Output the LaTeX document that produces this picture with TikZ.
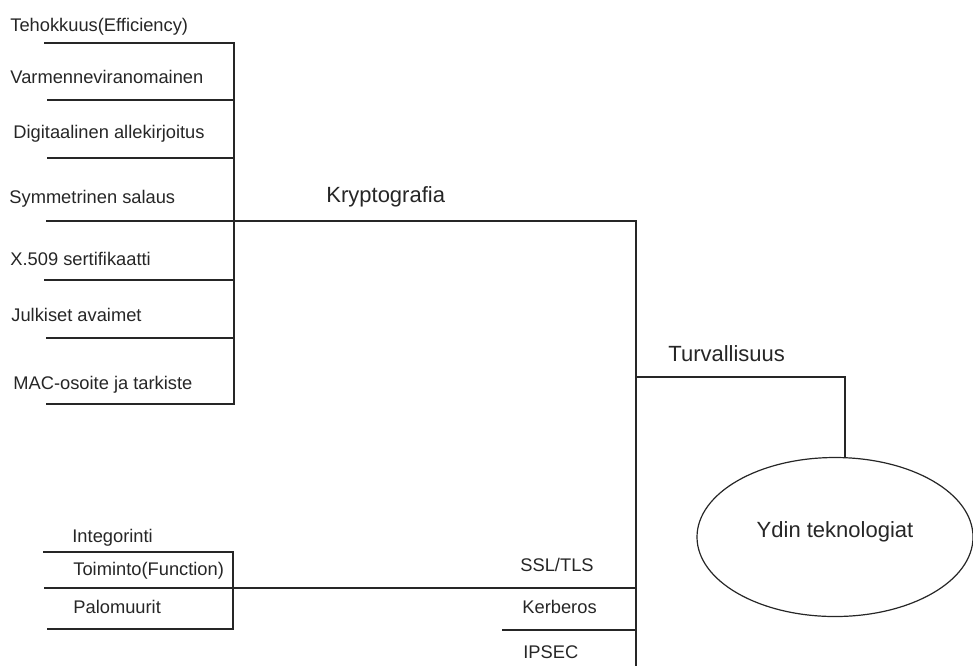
\documentclass[tikz,border=0pt]{standalone}
\usepackage{fontspec}
\setmainfont{Liberation Sans}
\usetikzlibrary{shapes.geometric}

\begin{document}
\begin{tikzpicture}[
    x=0.5pt, y=-0.5pt,
    item/.style={anchor=base west, inner sep=0pt, text=black!85, font=\fontsize{9.15}{11}\selectfont},
    head/.style={anchor=base west, inner sep=0pt, text=black!85, font=\fontsize{11}{13}\selectfont},
    core/.style={ellipse, draw=black!85, line width=0.6pt, inner sep=0pt, minimum width=138pt, minimum height=79.5pt, text height=1ex, text depth=1ex, text=black!85, font=\fontsize{11}{13}\selectfont},
    link/.style={draw=black!85, line width=0.75pt}
]
\useasboundingbox (0,0) rectangle (973,666);

% Kryptografia branch
\node[item] (teho) at (10,31) {Tehokkuus(Efficiency)};
\node[item] (varm) at (10,83) {Varmenneviranomainen};
\node[item] (digi) at (13,138) {Digitaalinen allekirjoitus};
\node[item] (symm) at (9,203) {Symmetrinen salaus};
\node[item] (x509) at (10,265) {X.509 sertifikaatti};
\node[item] (julk) at (11,321) {Julkiset avaimet};
\node[item] (mac) at (13,389) {MAC-osoite ja tarkiste};
\node[head] (krypto) at (326,202) {Kryptografia};

\coordinate (k1) at (44,43);
\coordinate (k2) at (47,100);
\coordinate (k3) at (47,158);
\coordinate (k4) at (46,221);
\coordinate (k5) at (44,280);
\coordinate (k6) at (46,338);
\coordinate (k7) at (46,404);
\coordinate (kspine) at (234,0);
\coordinate (main) at (636,666);

\draw[link] (k1) -- (k1 -| kspine) -- (k7 -| kspine) -- (k7);
\draw[link] (k2) -- (k2 -| kspine);
\draw[link] (k3) -- (k3 -| kspine);
\draw[link] (k5) -- (k5 -| kspine);
\draw[link] (k6) -- (k6 -| kspine);
\draw[link] (k4) -- (k4 -| main) -- (main);

% Turvallisuus and core
\node[head] (turva) at (668,361) {Turvallisuus};
\node[core] (ydin) at (835,537) {Ydin teknologiat};
\coordinate (t1) at (636,377);
\coordinate (t2) at (845,377);
\draw[link] (t1) -- (t2) -- (t2 |- ydin.north);

% Function branch
\node[item] (integ) at (72,542) {Integorinti};
\node[item] (toim) at (73,575) {Toiminto(Function)};
\node[item] (palo) at (73,613) {Palomuurit};
\coordinate (f1) at (43,552);
\coordinate (f2) at (44,588);
\coordinate (f3) at (47,629);
\coordinate (fspine) at (233,0);
\draw[link] (f1) -- (f1 -| fspine) -- (f3 -| fspine) -- (f3);
\draw[link] (f2) -- (f2 -| main);

% Protocols
\node[item] (ssl) at (520,571) {SSL/TLS};
\node[item] (kerb) at (522,613) {Kerberos};
\node[item] (ipsec) at (523,658) {IPSEC};
\coordinate (p1) at (502,630);
\draw[link] (p1) -- (p1 -| main);

\end{tikzpicture}
\end{document}
